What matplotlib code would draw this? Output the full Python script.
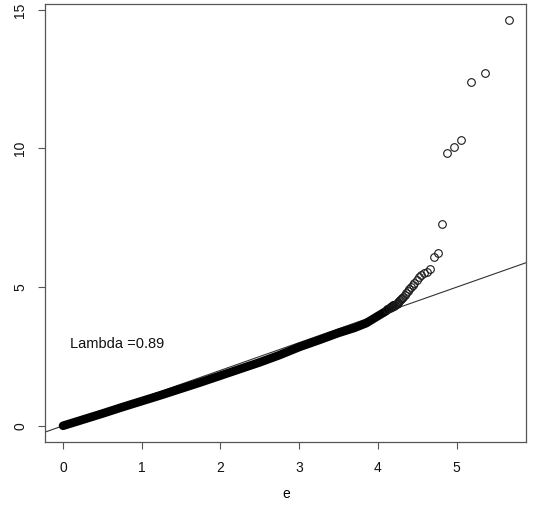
import matplotlib
matplotlib.use("Agg")
import matplotlib.pyplot as plt
import numpy as np

plt.rcParams['font.family'] = ['Liberation Sans', 'DejaVu Sans']

# expected -log10(p) vs observed -log10(p), read off the picture
# main dense band (overlapping circles)
band_exp = [0.0, 0.25, 0.5, 0.75, 1.0, 1.25, 1.5, 1.75, 2.0, 2.25, 2.5,
            2.75, 3.0, 3.25, 3.5, 3.7, 3.85, 4.0, 4.1, 4.2]
band_obs = [0.0, 0.22, 0.44, 0.67, 0.89, 1.11, 1.34, 1.57, 1.81, 2.05, 2.29,
            2.55, 2.84, 3.09, 3.35, 3.53, 3.70, 3.96, 4.13, 4.35]

# tail points drawn one by one
tail_exp = [4.12, 4.15, 4.18, 4.20, 4.22, 4.23, 4.24, 4.25, 4.26, 4.27,
            4.28, 4.29, 4.30, 4.32, 4.34, 4.36, 4.38, 4.40,
            4.42, 4.44, 4.46, 4.49, 4.52, 4.55, 4.58, 4.62, 4.66, 4.71,
            4.76, 4.81, 4.88, 4.96, 5.06, 5.18, 5.36, 5.66]
tail_obs = [4.20, 4.24, 4.30, 4.33, 4.36, 4.38, 4.40, 4.43, 4.46, 4.50,
            4.53, 4.57, 4.60, 4.66, 4.72, 4.78, 4.85, 4.93,
            5.00, 5.06, 5.15, 5.25, 5.37, 5.43, 5.50, 5.55, 5.66, 6.08,
            6.24, 7.26, 9.82, 10.07, 10.30, 12.40, 12.73, 14.62]

lambda_txt = "Lambda =0.89"

fig = plt.figure(figsize=(5.33, 5.2), dpi=100)
ax = fig.add_axes([0.0848, 0.15, 0.903, 0.842])

all_x = band_exp + tail_exp
all_y = band_obs + tail_obs
xr = max(all_x) - min(all_x)
yr = max(all_y) - min(all_y)
xlim = (min(all_x) - 0.04 * xr, max(all_x) + 0.04 * xr)
ylim = (min(all_y) - 0.04 * yr, max(all_y) + 0.04 * yr)

# y = x reference line
ax.plot(xlim, xlim, color='#333333', lw=0.8, zorder=1)

# dense band
ax.plot(band_exp, band_obs, color='black', lw=6.2, solid_capstyle='round', zorder=2)
ax.plot(tail_exp, tail_obs, 'o', mfc='none', mec='#1a1a1a', ms=5.5, mew=0.8, zorder=3)

ax.text(0.69, 2.96, lambda_txt, ha='center', va='center', fontsize=10.5, color='#111111')

ax.set_xlim(xlim)
ax.set_ylim(ylim)
ax.set_xticks([0, 1, 2, 3, 4, 5])
ax.set_yticks([0, 5, 10, 15])
ax.set_xlabel('e', fontsize=10, labelpad=8)
for lab in ax.get_yticklabels():
    lab.set_rotation(90)
    lab.set_va('center')
ax.tick_params(direction='out', length=5, width=0.8, labelsize=10, colors='#555555',
               labelcolor='#111111')
ax.tick_params(axis='x', pad=9)
ax.tick_params(axis='y', pad=8)
for s in ax.spines.values():
    s.set_color('#555555')
    s.set_linewidth(0.9)

fig.savefig('out.png', dpi=100)
